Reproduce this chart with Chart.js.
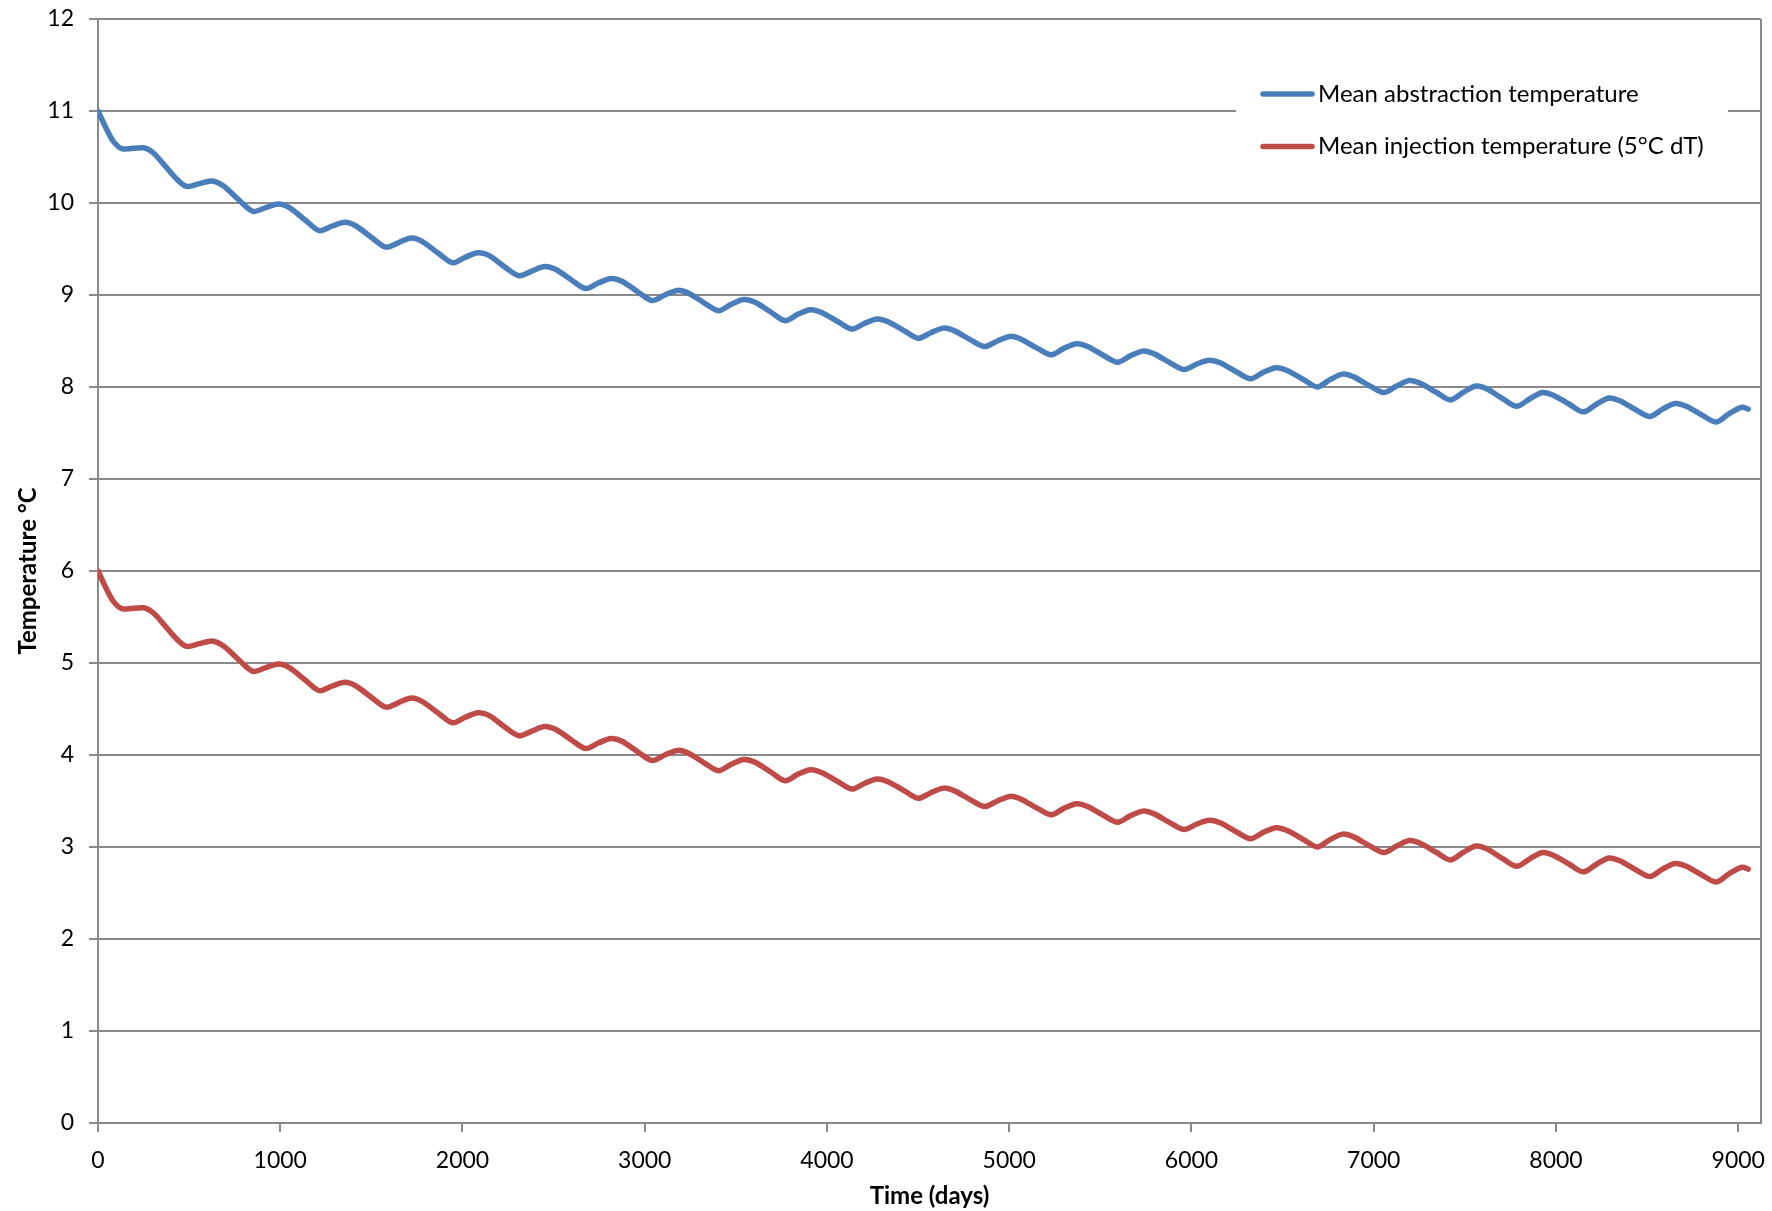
<!DOCTYPE html>
<html>
<head>
<meta charset="utf-8">
<script src="https://cdn.jsdelivr.net/npm/chart.js@4/dist/chart.umd.min.js"></script>
<style>
  html, body { margin: 0; padding: 0; background: #fff; }
  #wrap { width: 1772px; height: 1211px; }
</style>
</head>
<body>
<div id="wrap"><canvas id="chart" width="1772" height="1211"></canvas></div>
<script>
// Simulation time in days
const days = [
  0, 45, 84, 133, 250, 300, 348, 427,
  485, 555, 625, 685, 775,
  850, 920, 990, 1050, 1140,
  1215, 1285, 1355, 1415, 1505,
  1580, 1650, 1720, 1780, 1870,
  1945, 2015, 2085, 2145, 2235,
  2310, 2380, 2450, 2510, 2600,
  2675, 2745, 2815, 2875, 2965,
  3040, 3110, 3180, 3240, 3330,
  3405, 3475, 3545, 3605, 3695,
  3770, 3840, 3910, 3970, 4060,
  4135, 4205, 4275, 4335, 4425,
  4500, 4570, 4640, 4700, 4790,
  4865, 4935, 5005, 5065, 5155,
  5230, 5300, 5370, 5430, 5520,
  5595, 5665, 5735, 5795, 5885,
  5960, 6030, 6100, 6160, 6250,
  6325, 6395, 6465, 6525, 6615,
  6690, 6760, 6830, 6890, 6980,
  7055, 7125, 7195, 7255, 7345,
  7420, 7490, 7560, 7620, 7710,
  7785, 7855, 7925, 7985, 8075,
  8150, 8220, 8290, 8350, 8440,
  8515, 8585, 8655, 8715, 8805,
  8880, 8950, 9020, 9055
];

// Mean abstraction temperature (°C)
const abstractionTemp = [
  11.00, 10.81, 10.67, 10.59, 10.60, 10.55, 10.45, 10.27,
  10.18, 10.21, 10.24, 10.19, 10.03,
  9.91, 9.95, 9.99, 9.95, 9.81,
  9.70, 9.75, 9.79, 9.75, 9.62,
  9.52, 9.57, 9.62, 9.58, 9.45,
  9.35, 9.41, 9.46, 9.43, 9.30,
  9.21, 9.26, 9.31, 9.28, 9.16,
  9.07, 9.13, 9.18, 9.15, 9.03,
  8.94, 9.00, 9.05, 9.02, 8.91,
  8.83, 8.90, 8.95, 8.92, 8.81,
  8.72, 8.79, 8.84, 8.81, 8.71,
  8.63, 8.69, 8.74, 8.71, 8.61,
  8.53, 8.59, 8.64, 8.61, 8.51,
  8.44, 8.50, 8.55, 8.52, 8.42,
  8.35, 8.42, 8.47, 8.44, 8.34,
  8.27, 8.34, 8.39, 8.36, 8.26,
  8.19, 8.25, 8.29, 8.26, 8.16,
  8.09, 8.16, 8.21, 8.18, 8.08,
  8.00, 8.08, 8.14, 8.11, 8.01,
  7.94, 8.01, 8.07, 8.04, 7.94,
  7.86, 7.94, 8.01, 7.98, 7.87,
  7.79, 7.87, 7.94, 7.91, 7.81,
  7.73, 7.81, 7.88, 7.85, 7.75,
  7.68, 7.76, 7.82, 7.79, 7.69,
  7.62, 7.71, 7.78, 7.76
];

// Mean injection temperature (°C), 5 °C below abstraction
const injectionTemp = [
  6.00, 5.81, 5.67, 5.59, 5.60, 5.55, 5.45, 5.27,
  5.18, 5.21, 5.24, 5.19, 5.03,
  4.91, 4.95, 4.99, 4.95, 4.81,
  4.70, 4.75, 4.79, 4.75, 4.62,
  4.52, 4.57, 4.62, 4.58, 4.45,
  4.35, 4.41, 4.46, 4.43, 4.30,
  4.21, 4.26, 4.31, 4.28, 4.16,
  4.07, 4.13, 4.18, 4.15, 4.03,
  3.94, 4.00, 4.05, 4.02, 3.91,
  3.83, 3.90, 3.95, 3.92, 3.81,
  3.72, 3.79, 3.84, 3.81, 3.71,
  3.63, 3.69, 3.74, 3.71, 3.61,
  3.53, 3.59, 3.64, 3.61, 3.51,
  3.44, 3.50, 3.55, 3.52, 3.42,
  3.35, 3.42, 3.47, 3.44, 3.34,
  3.27, 3.34, 3.39, 3.36, 3.26,
  3.19, 3.25, 3.29, 3.26, 3.16,
  3.09, 3.16, 3.21, 3.18, 3.08,
  3.00, 3.08, 3.14, 3.11, 3.01,
  2.94, 3.01, 3.07, 3.04, 2.94,
  2.86, 2.94, 3.01, 2.98, 2.87,
  2.79, 2.87, 2.94, 2.91, 2.81,
  2.73, 2.81, 2.88, 2.85, 2.75,
  2.68, 2.76, 2.82, 2.79, 2.69,
  2.62, 2.71, 2.78, 2.76
];

const xTickValues = [0, 1000, 2000, 3000, 4000, 5000, 6000, 7000, 8000, 9000];
const seriesLabels = ['Mean abstraction temperature', 'Mean injection temperature (5°C dT)'];
const seriesColors = ['#4a7ebb', '#be4b48'];
const xTitle = 'Time (days)';
const yTitle = 'Temperature °C';

const GRID = '#8a8a8a';
const FONT = 'Lato, "Open Sans", sans-serif';

function toPoints(values) {
  return days.map((d, i) => ({ x: d, y: values[i] }));
}

// Plot frame on the right and the legend box inside the plot
const framePlugin = {
  id: 'frameAndLegend',
  afterDraw(chart) {
    const { ctx, chartArea } = chart;
    ctx.save();
    ctx.strokeStyle = GRID;
    ctx.lineWidth = 2;
    ctx.beginPath();
    ctx.moveTo(chartArea.right, chartArea.top);
    ctx.lineTo(chartArea.right, chartArea.bottom);
    ctx.stroke();

    // legend
    const boxLeft = 1236, boxTop = 54, boxW = 492, boxH = 122;
    ctx.fillStyle = '#ffffff';
    ctx.fillRect(boxLeft, boxTop, boxW, boxH);
    chart.data.datasets.forEach((ds, i) => {
      const y = 94 + i * 52.5;
      ctx.strokeStyle = ds.borderColor;
      ctx.lineWidth = 5.5;
      ctx.lineCap = 'round';
      ctx.beginPath();
      ctx.moveTo(1263, y);
      ctx.lineTo(1312, y);
      ctx.stroke();
      ctx.fillStyle = '#000';
      ctx.font = '24px ' + FONT;
      ctx.textBaseline = 'middle';
      ctx.textAlign = 'left';
      ctx.fillText(ds.label, 1318, y);
    });
    ctx.restore();
  }
};

function lineDataset(label, values, color) {
  return {
    label,
    data: toPoints(values),
    borderColor: color,
    borderWidth: 5.5,
    pointRadius: 0,
    tension: 0.3,
    borderCapStyle: 'round',
    borderJoinStyle: 'round',
    fill: false
  };
}

new Chart(document.getElementById('chart'), {
  type: 'line',
  data: {
    datasets: [
      lineDataset(seriesLabels[0], abstractionTemp, seriesColors[0]),
      lineDataset(seriesLabels[1], injectionTemp, seriesColors[1])
    ]
  },
  options: {
    responsive: false,
    animation: false,
    devicePixelRatio: 1,
    layout: { padding: { left: 0, right: 11, top: 19, bottom: 0 } },
    plugins: {
      legend: { display: false },
      tooltip: { enabled: false }
    },
    scales: {
      x: {
        type: 'linear',
        min: 0,
        max: 9125,
        afterBuildTicks(scale) {
          scale.ticks = xTickValues.map(v => ({ value: v }));
        },
        afterFit(scale) {
          scale.height = 88;
          scale.paddingLeft = 0;
          scale.paddingRight = 0;
        },
        ticks: {
          autoSkip: false,
          maxRotation: 0,
          padding: 15,
          color: '#000',
          font: { family: FONT, size: 23 },
          callback: v => String(v)
        },
        grid: {
          drawOnChartArea: false,
          drawTicks: true,
          tickLength: 9,
          color: GRID,
          lineWidth: 2
        },
        border: { display: true, color: GRID, width: 2 },
        title: {
          display: true,
          text: xTitle,
          color: '#000',
          font: { family: FONT, size: 24, weight: 'bold' },
          padding: { top: 0, bottom: 0 }
        }
      },
      y: {
        min: 0,
        max: 12,
        afterFit(scale) {
          scale.width = 98;
          scale.paddingTop = 0;
          scale.paddingBottom = 0;
        },
        ticks: {
          stepSize: 1,
          padding: 15,
          color: '#000',
          font: { family: FONT, size: 23 }
        },
        grid: {
          color: GRID,
          lineWidth: 2,
          drawTicks: true,
          tickLength: 9
        },
        border: { display: true, color: GRID, width: 2 },
        title: {
          display: true,
          text: yTitle,
          color: '#000',
          font: { family: FONT, size: 24, weight: 'bold' },
          padding: { top: 14, bottom: 0 }
        }
      }
    }
  },
  plugins: [framePlugin]
});
</script>
</body>
</html>
